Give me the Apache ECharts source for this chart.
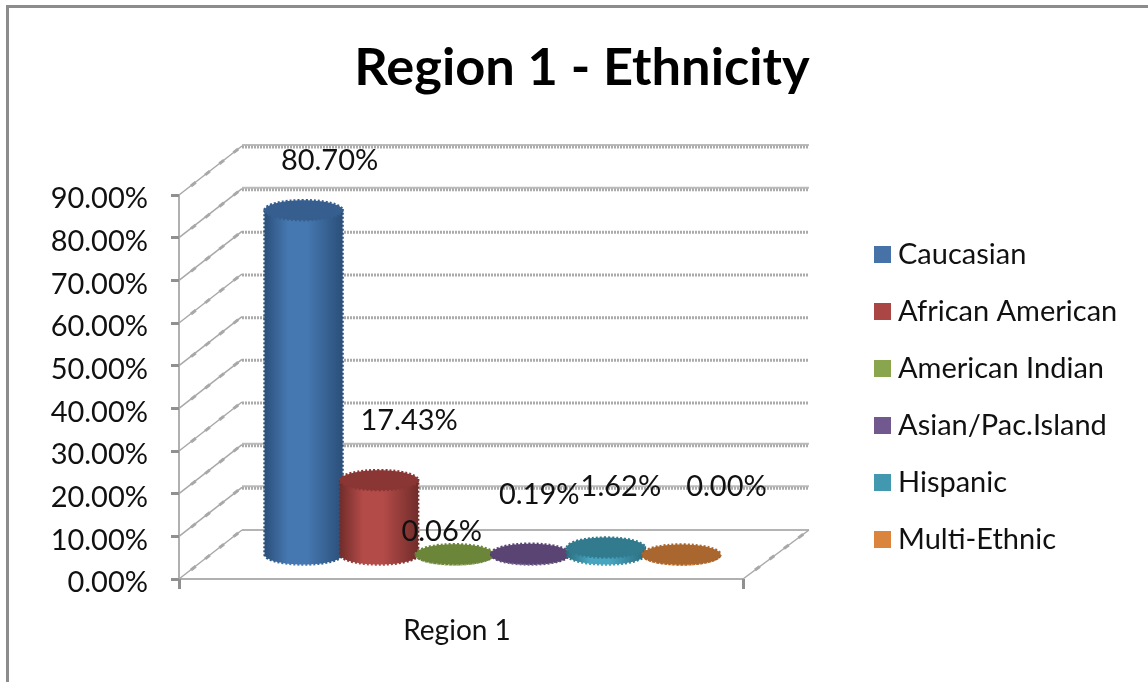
<!DOCTYPE html>
<html>
<head>
<meta charset="utf-8">
<style>html,body{margin:0;padding:0;background:#fff}#chart{width:1148px;height:682px}</style>
<script src="https://cdn.jsdelivr.net/npm/echarts@6/dist/echarts.min.js"></script>
</head>
<body>
<div id="chart"></div>
<script>
const categories = ['Region 1'];
const seriesNames = ['Caucasian', 'African American', 'American Indian', 'Asian/Pac.Island', 'Hispanic', 'Multi-Ethnic'];
const seriesValues = [80.70, 17.43, 0.06, 0.19, 1.62, 0.00];
const yTicks = [0, 10, 20, 30, 40, 50, 60, 70, 80, 90];
const strongTicks = [20, 10, 80, 90];

// style tables (not data)
const legendColors = ['#4672a8', '#aa4643', '#89a54e', '#71588f', '#4198af', '#db843d'];
const sideEdge = ['#2a4e78', '#6f2b29', '#5f7335', '#4a3961', '#2a6b7d', '#955724'];
const sideMid = ['#4577b0', '#b34b48', '#8fae50', '#75608f', '#47a5bf', '#e08a42'];
const capColors = ['#365f8f', '#8a3634', '#6b8539', '#5a4474', '#327a8d', '#aa662f'];
const labelOffsets = [[26, -50], [30, -59], [-13, -23], [9, -59], [15, -61], [45, -68]];

const FONT = 'Lato, "Open Sans", sans-serif';
const TEXT = '#111';
const DEPTH_X = 63, DEPTH_Y = 49;
const SLOT = 0.134, RX = 39, RY = 10;

function wallItem(params, api) {
  const v = api.value(1);
  const p = api.coord([0, v]);
  const band = api.size([1, 0])[0];
  const l = p[0] - band / 2, r = p[0] + band / 2, y = p[1];
  const strong = strongTicks.indexOf(v) >= 0;
  const floor = v === 0;
  const kids = [];
  const ln = (x1, y1, x2, y2, style) => kids.push({type: 'line', shape: {x1, y1, x2, y2}, style: Object.assign({fill: null}, style)});
  if (floor) {
    ln(l + DEPTH_X, y - DEPTH_Y, r + DEPTH_X + 3, y - DEPTH_Y, {stroke: '#b4b4b4', lineWidth: 2});
    ln(r, y, r + DEPTH_X + 3, y - DEPTH_Y, {stroke: '#a8a8a8', lineWidth: 1.5});
    ln(r + 12, y - 9, r + DEPTH_X + 3, y - DEPTH_Y, {stroke: '#a8a8a8', lineWidth: 3, lineDash: [6, 12]});
  } else {
    if (strong) ln(l + DEPTH_X, y - DEPTH_Y - 1, r + DEPTH_X + 3, y - DEPTH_Y - 1, {stroke: '#bcbcbc', lineWidth: 2});
    ln(l + DEPTH_X, y - DEPTH_Y + 1, r + DEPTH_X + 3, y - DEPTH_Y + 1, {stroke: '#ababab', lineWidth: 3, lineDash: [2, 1]});
  }
  ln(l, y, l + DEPTH_X, y - DEPTH_Y, {stroke: '#a8a8a8', lineWidth: 1.5});
  ln(l + 12, y - 9, l + DEPTH_X, y - DEPTH_Y, {stroke: '#a8a8a8', lineWidth: 3, lineDash: [6, 12]});
  return {type: 'group', children: kids};
}

function cylinderItem(i) {
  return function (params, api) {
    const base = api.coord([api.value(0), 0]);
    const top = api.coord([api.value(0), api.value(1)]);
    const band = api.size([1, 0])[0];
    const cx = base[0] + DEPTH_X / 2 + (i - 2.5) * band * SLOT;
    const y0 = base[1] - DEPTH_Y / 2;
    const y1 = top[1] - DEPTH_Y / 2;
    const grad = {
      type: 'linear', x: 0, y: 0, x2: 1, y2: 0,
      colorStops: [
        {offset: 0, color: sideEdge[i]},
        {offset: 0.3, color: sideMid[i]},
        {offset: 0.55, color: sideMid[i]},
        {offset: 1, color: sideEdge[i]}
      ]
    };
    // body outline: left edge, lower half of the base ellipse, right edge
    const pts = [[cx - RX, y1]];
    for (let a = 180; a >= 0; a -= 6) {
      const t = a * Math.PI / 180;
      pts.push([cx + RX * Math.cos(t), y0 + RY * Math.sin(t)]);
    }
    pts.push([cx + RX, y1]);
    return {
      type: 'group',
      children: [
        {type: 'polygon', shape: {points: pts},
          style: {fill: grad, stroke: grad, lineWidth: 2.5, lineDash: [2, 2]}},
        {type: 'ellipse', shape: {cx, cy: y1, rx: RX, ry: RY},
          style: {fill: capColors[i], stroke: capColors[i], lineWidth: 2.5, lineDash: [2, 2]}},
        {type: 'text', z2: 100, style: {
          x: cx + labelOffsets[i][0], y: y1 + labelOffsets[i][1],
          text: seriesValues[i].toFixed(2) + '%',
          font: '29px ' + FONT, fill: TEXT, align: 'center', verticalAlign: 'middle'}}
      ]
    };
  };
}

const series = [{
  name: 'walls', type: 'custom', z: 1, silent: true,
  renderItem: wallItem, encode: {x: 0, y: 1},
  data: yTicks.map(t => [0, t])
}].concat(seriesNames.map((name, i) => ({
  name, type: 'custom', z: 2 + i,
  itemStyle: {color: legendColors[i]},
  renderItem: cylinderItem(i), encode: {x: 0, y: 1},
  data: [[0, seriesValues[i]]]
})));

const chart = echarts.init(document.getElementById('chart'), null, {renderer: 'canvas'});
chart.setOption({
  animation: false,
  backgroundColor: '#fff',
  title: {
    text: 'Region 1 - Ethnicity', left: 577, top: 28, textAlign: 'center',
    textStyle: {fontFamily: FONT, fontWeight: 'bold', fontSize: 52.4, color: '#000', lineHeight: 70}
  },
  legend: {
    orient: 'vertical', left: 874, top: 235, icon: 'rect', padding: 0,
    itemWidth: 17, itemHeight: 17, itemGap: 18,
    data: seriesNames,
    selectedMode: false,
    textStyle: {fontFamily: FONT, fontSize: 29, color: TEXT, lineHeight: 34, padding: [5, 0, 0, 2]}
  },
  grid: {left: 179, top: 195, width: 564, height: 384},
  xAxis: {
    type: 'category', data: categories,
    axisLine: {lineStyle: {color: '#b0b0b0', width: 2}},
    axisTick: {show: true, length: 10, lineStyle: {color: '#909090', width: 3}},
    axisLabel: {fontFamily: FONT, fontSize: 28, color: TEXT, margin: 38, padding: [0, 8, 0, 0]}
  },
  yAxis: {
    type: 'value', min: 0, max: 90, interval: 10,
    splitLine: {show: false},
    axisLine: {show: true, lineStyle: {color: '#b0b0b0', width: 2}},
    axisTick: {show: true, length: 8, lineStyle: {color: '#909090', width: 3}},
    axisLabel: {fontFamily: FONT, fontSize: 29, color: TEXT, margin: 31, verticalAlign: 'top', lineHeight: 8,
      formatter: v => v.toFixed(2) + '%'}
  },
  graphic: [
    {type: 'line', shape: {x1: 7.5, y1: 6.5, x2: 7.5, y2: 682}, style: {stroke: '#8c8c8c', lineWidth: 3}},
    {type: 'line', shape: {x1: 6, y1: 6.5, x2: 1148, y2: 6.5}, style: {stroke: '#8c8c8c', lineWidth: 3}}
  ],
  series
});
</script>
</body>
</html>
